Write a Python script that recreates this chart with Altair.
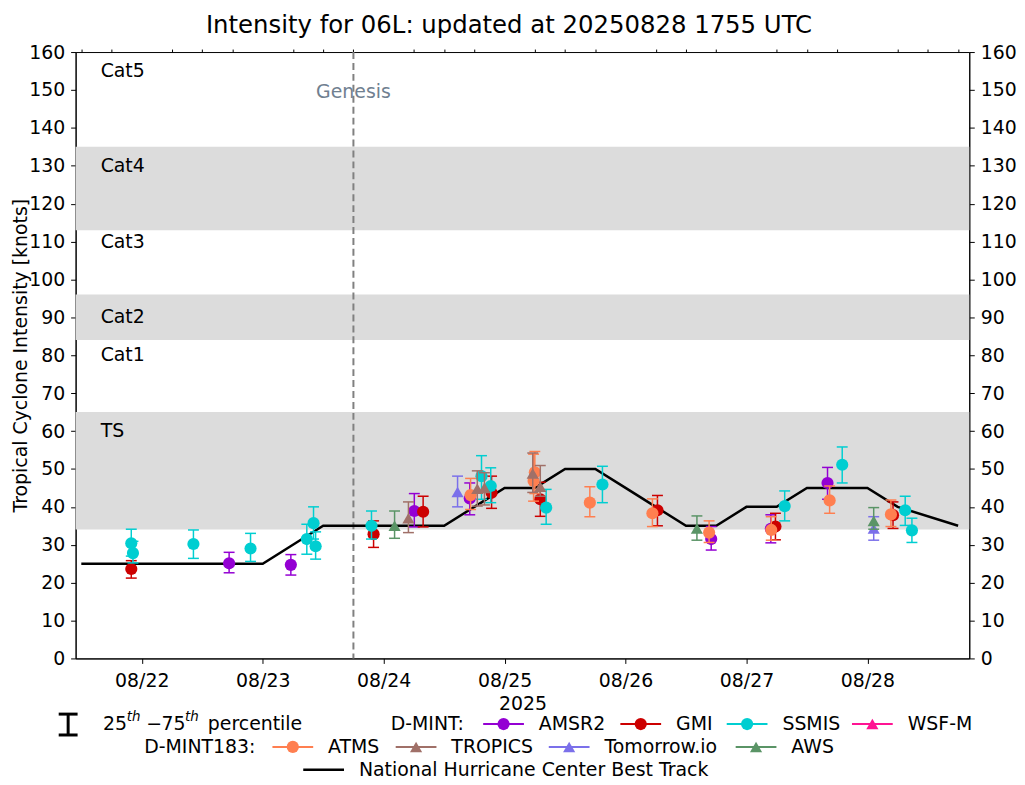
import altair as alt
import pandas as pd

FONT = "DejaVu Sans"

# ------------------------------------------------------------------ data
sensors = ["AMSR2", "GMI", "SSMIS", "WSF-M", "ATMS", "TROPICS", "Tomorrow.io", "AWS"]
sensor_colors = ["#9400d3", "#cc0000", "#00ced1", "#ff1493", "#ff7f50", "#a07068", "#7b70ea", "#5a9466"]
sensor_shapes = ["circle", "circle", "circle", "triangle-up", "circle", "triangle-up", "triangle-up", "triangle-up"]

obs_sensor = [
    "SSMIS", "SSMIS", "GMI", "SSMIS", "AMSR2", "SSMIS", "AMSR2", "SSMIS", "SSMIS", "SSMIS",
    "SSMIS", "GMI", "AWS", "TROPICS", "AMSR2", "GMI", "Tomorrow.io", "AMSR2", "ATMS", "TROPICS",
    "SSMIS", "TROPICS", "SSMIS", "GMI", "TROPICS", "ATMS", "ATMS", "TROPICS", "GMI", "SSMIS",
    "ATMS", "SSMIS", "ATMS", "GMI", "AWS", "ATMS", "AMSR2", "AMSR2", "ATMS", "GMI",
    "SSMIS", "AMSR2", "ATMS", "SSMIS", "AWS", "Tomorrow.io", "ATMS", "GMI", "SSMIS", "SSMIS",
]
obs_time = [
    "2025-08-21T21:55:00Z", "2025-08-21T22:15:00Z", "2025-08-21T21:55:00Z", "2025-08-22T10:15:00Z",
    "2025-08-22T17:20:00Z", "2025-08-22T21:35:00Z", "2025-08-23T05:35:00Z", "2025-08-23T08:45:00Z",
    "2025-08-23T10:05:00Z", "2025-08-23T10:30:00Z", "2025-08-23T21:35:00Z", "2025-08-23T22:00:00Z",
    "2025-08-24T02:10:00Z", "2025-08-24T04:55:00Z", "2025-08-24T06:05:00Z", "2025-08-24T07:50:00Z",
    "2025-08-24T14:40:00Z", "2025-08-24T17:05:00Z", "2025-08-24T17:15:00Z", "2025-08-24T18:35:00Z",
    "2025-08-24T19:25:00Z", "2025-08-24T20:00:00Z", "2025-08-24T21:15:00Z", "2025-08-24T21:25:00Z",
    "2025-08-25T05:35:00Z", "2025-08-25T05:45:00Z", "2025-08-25T06:00:00Z", "2025-08-25T07:05:00Z",
    "2025-08-25T07:05:00Z", "2025-08-25T08:15:00Z", "2025-08-25T16:55:00Z", "2025-08-25T19:25:00Z",
    "2025-08-26T05:20:00Z", "2025-08-26T06:20:00Z", "2025-08-26T14:10:00Z", "2025-08-26T16:35:00Z",
    "2025-08-26T17:00:00Z", "2025-08-27T04:50:00Z", "2025-08-27T04:55:00Z", "2025-08-27T05:45:00Z",
    "2025-08-27T07:35:00Z", "2025-08-27T16:05:00Z", "2025-08-27T16:30:00Z", "2025-08-27T19:00:00Z",
    "2025-08-28T01:15:00Z", "2025-08-28T01:15:00Z", "2025-08-28T04:40:00Z", "2025-08-28T05:05:00Z",
    "2025-08-28T07:30:00Z", "2025-08-28T08:50:00Z",
]
obs_vmax = [
    30.4, 27.8, 23.6, 30.2, 25.1, 29.0, 24.7, 31.5, 35.7, 29.6,
    35.0, 32.8, 35.0, 37.0, 38.9, 38.7, 43.9, 42.2, 43.1, 44.8,
    48.1, 45.0, 45.5, 43.7, 48.8, 46.8, 49.1, 45.3, 42.0, 39.8,
    41.1, 45.9, 38.3, 39.1, 34.3, 33.2, 31.5, 34.2, 33.9, 34.8,
    40.2, 46.3, 41.7, 51.1, 36.3, 34.3, 38.0, 37.8, 39.1, 33.8,
]
obs_p25 = [
    27.0, 25.2, 21.2, 26.4, 22.6, 25.6, 22.0, 27.5, 31.5, 26.2,
    31.5, 29.3, 31.7, 33.2, 34.7, 34.7, 40.0, 37.9, 39.3, 40.2,
    42.0, 40.5, 41.1, 39.6, 43.8, 41.5, 43.5, 42.8, 37.5, 35.4,
    37.4, 41.1, 34.8, 35.0, 31.2, 30.6, 28.6, 30.5, 31.2, 31.3,
    36.3, 42.0, 38.3, 46.3, 34.1, 31.2, 34.8, 34.3, 35.1, 30.6,
]
obs_p75 = [
    34.1, 30.9, 25.8, 33.9, 28.0, 33.0, 27.4, 35.4, 40.0, 33.4,
    38.9, 36.3, 38.9, 41.3, 43.5, 42.8, 48.1, 46.3, 47.5, 49.5,
    53.5, 49.0, 50.3, 48.1, 54.2, 53.9, 54.6, 50.9, 46.5, 44.6,
    45.3, 50.7, 42.1, 43.0, 37.6, 36.3, 34.8, 37.9, 37.4, 38.3,
    44.2, 50.4, 45.5, 55.8, 39.8, 37.4, 41.8, 41.3, 42.8, 37.0,
]

bt_time = [
    "2025-08-21T12:00:00Z", "2025-08-21T18:00:00Z", "2025-08-22T00:00:00Z", "2025-08-22T06:00:00Z",
    "2025-08-22T12:00:00Z", "2025-08-22T18:00:00Z", "2025-08-23T00:00:00Z", "2025-08-23T06:00:00Z",
    "2025-08-23T12:00:00Z", "2025-08-23T18:00:00Z", "2025-08-24T00:00:00Z", "2025-08-24T06:00:00Z",
    "2025-08-24T12:00:00Z", "2025-08-24T18:00:00Z", "2025-08-25T00:00:00Z", "2025-08-25T06:00:00Z",
    "2025-08-25T12:00:00Z", "2025-08-25T18:00:00Z", "2025-08-26T00:00:00Z", "2025-08-26T06:00:00Z",
    "2025-08-26T12:00:00Z", "2025-08-26T18:00:00Z", "2025-08-27T00:00:00Z", "2025-08-27T06:00:00Z",
    "2025-08-27T12:00:00Z", "2025-08-27T18:00:00Z", "2025-08-28T00:00:00Z", "2025-08-28T06:00:00Z",
    "2025-08-28T18:00:00Z",
]
bt_vmax = [
    25, 25, 25, 25, 25, 25, 25, 30, 35, 35, 35, 35, 35, 40, 45, 45, 50, 50,
    45, 40, 35, 35, 40, 40, 45, 45, 45, 40, 35,
]

band_lo = [34, 84, 113]
band_hi = [65, 96, 135]

cat_names = ["Cat5", "Cat4", "Cat3", "Cat2", "Cat1", "TS"]
cat_label_vmax = [155, 130, 110, 90, 80, 60]
cat_label_time = "2025-08-21T15:50:00Z"

genesis_time = "2025-08-23T18:00:00Z"
genesis_label_vmax = 149.5

x_start = "2025-08-21T10:52:00Z"
x_end = "2025-08-28T20:13:00Z"
y_ticks = list(range(0, 161, 10))
major_days = ["2025-08-%02dT00:00:00Z" % d for d in range(22, 29)]
minor_times = ["2025-08-%02dT%02d:00:00Z" % (d, h) for d in range(21, 29) for h in (6, 12, 18)]

title_text = "Intensity for 06L: updated at 20250828 1755 UTC"


def ms(s):
    return int(pd.Timestamp(s).value // 10**6)


# ------------------------------------------------------------------ frames
obs = pd.DataFrame({"sensor": obs_sensor, "t": obs_time, "v": obs_vmax,
                    "p25": obs_p25, "p75": obs_p75})
bt = pd.DataFrame({"t": bt_time, "v": bt_vmax})
bands = pd.DataFrame({"lo": band_lo, "hi": band_hi})
cats = pd.DataFrame({"name": cat_names, "v": cat_label_vmax, "t": [cat_label_time] * len(cat_names)})
gen = pd.DataFrame({"t": [genesis_time], "v": [genesis_label_vmax], "label": ["Genesis"]})
one = pd.DataFrame({"k": [0]})

W, H = 899, 610
PL, PT = 68, 42          # padding (svg coords)
OX, OY = 8 + PL, 8 + PT  # page coords of plot origin
FS = 19
MSIZE = 150

xscale = alt.Scale(type="utc", domain=[ms(x_start), ms(x_end)])
yscale = alt.Scale(domain=[0, 160], nice=False, zero=False)

ax_common = dict(grid=False, domainColor="black", tickColor="black", labelColor="black",
                 titleColor="black", labelFont=FONT, titleFont=FONT, labelFontSize=FS,
                 titleFontSize=FS, titleFontWeight="normal", domainWidth=1, tickWidth=1)

x_major = alt.Axis(values=[ms(s) for s in major_days], format="%m/%d", tickSize=5,
                   labelPadding=8, title="2025", titlePadding=4, labelFlush=False,
                   labelOverlap=False, **ax_common)
x_minor = alt.Axis(values=[ms(s) for s in minor_times], labels=False, tickSize=3,
                   title=None, domain=False, grid=False, tickColor="black", tickWidth=1)
y_left = alt.Axis(values=y_ticks, tickSize=5, labelPadding=6,
                  title="Tropical Cyclone Intensity [knots]", titleX=-55, titleY=H / 2,
                  titleBaseline="middle", titleAlign="center", titleAngle=270,
                  labelFlush=False, labelOverlap=False, **ax_common)
y_right = alt.Axis(values=y_ticks, tickSize=5, labelPadding=6, orient="right",
                   title=None, labelFlush=False, labelOverlap=False, **ax_common)

layers = []

# shaded category bands (left y axis)
layers.append(alt.Chart(bands).mark_rect(color="#dcdcdc").encode(
    y=alt.Y("lo:Q", scale=yscale, axis=y_left), y2="hi:Q"))
# right y axis carrier
layers.append(alt.Chart(bands).mark_rect(opacity=0).encode(
    y=alt.Y("lo:Q", scale=yscale, axis=y_right), y2="hi:Q"))

# category labels
layers.append(alt.Chart(cats).mark_text(align="left", baseline="middle", fontSize=FS,
                                        font=FONT, color="black").encode(
    x=alt.X("t:T", scale=xscale, axis=None), y=alt.Y("v:Q", scale=yscale, axis=None),
    text="name:N"))

# genesis line and label
layers.append(alt.Chart(gen).mark_rule(color="#808080", strokeWidth=2, strokeDash=[7, 4]).encode(
    x=alt.X("t:T", scale=xscale, axis=None)))
layers.append(alt.Chart(gen).mark_text(align="center", baseline="middle", fontSize=FS,
                                       font=FONT, color="#708090").encode(
    x=alt.X("t:T", scale=xscale, axis=None), y=alt.Y("v:Q", scale=yscale, axis=None),
    text="label:N"))

# best track (major x axis)
layers.append(alt.Chart(bt).mark_line(color="black", strokeWidth=2.5).encode(
    x=alt.X("t:T", scale=xscale, axis=x_major), y=alt.Y("v:Q", scale=yscale, axis=None)))
# minor x ticks carrier
layers.append(alt.Chart(bt).mark_line(strokeOpacity=0).encode(
    x=alt.X("t:T", scale=xscale, axis=x_minor), y=alt.Y("v:Q", scale=yscale, axis=None)))

# observations, series by series
for s, c, shp in zip(sensors, sensor_colors, sensor_shapes):
    sub = obs[obs["sensor"] == s]
    if len(sub) == 0:
        continue
    base = alt.Chart(sub)
    xe = alt.X("t:T", scale=xscale, axis=None)
    layers.append(base.mark_rule(color=c, strokeWidth=1.5).encode(
        x=xe, y=alt.Y("p25:Q", scale=yscale, axis=None), y2="p75:Q"))
    layers.append(base.transform_fold(["p25", "p75"], as_=["which", "cap"]).mark_tick(
        color=c, orient="horizontal", size=11, thickness=1.5, opacity=1).encode(
        x=xe, y=alt.Y("cap:Q", scale=yscale, axis=None)))
    layers.append(base.mark_point(filled=True, size=MSIZE, opacity=1, shape=shp, color=c,
                                  strokeWidth=0).encode(
        x=xe, y=alt.Y("v:Q", scale=yscale, axis=None)))


# ------------------------------------------------------------------ legend
def txt(s, X, Y, size=FS, italic=False):
    kw = dict(text=s, align="left", baseline="middle", fontSize=size, font=FONT, color="black")
    if italic:
        kw["fontStyle"] = "italic"
    return alt.Chart(one).mark_text(**kw).encode(x=alt.value(X - OX), y=alt.value(Y - OY))


def hline(x1, x2, Y, color, width=2.0):
    return alt.Chart(one).mark_rule(color=color, strokeWidth=width).encode(
        x=alt.value(x1 - OX), x2=alt.value(x2 - OX), y=alt.value(Y - OY))


def vline(X, y1, y2, color, width=3.0):
    return alt.Chart(one).mark_rule(color=color, strokeWidth=width).encode(
        x=alt.value(X - OX), y=alt.value(y1 - OY), y2=alt.value(y2 - OY))


def marker(X, Y, color, shape):
    return alt.Chart(one).mark_point(filled=True, size=MSIZE, opacity=1, shape=shape,
                                     color=color, strokeWidth=0).encode(
        x=alt.value(X - OX), y=alt.value(Y - OY))


R1, R2, R3 = 726, 749, 772
# percentile symbol
layers += [vline(68.5, 716, 737, "black"), hline(59, 78, 716, "black", 3), hline(59, 78, 737, "black", 3)]
layers += [txt("25", 103.5, R1), txt("th", 127.5, R1 - 7, 13.5, True), txt("\u2212", 147, R1),
           txt("75", 162.5, R1), txt("th", 186, R1 - 7, 13.5, True), txt("percentile", 209, R1)]
layers.append(txt("D-MINT:", 393, R1))
layers.append(txt("D-MINT183:", 145, R2))

legend_entries = [
    ("AMSR2", R1, 486), ("GMI", R1, 624), ("SSMIS", R1, 731), ("WSF-M", R1, 857),
    ("ATMS", R2, 274), ("TROPICS", R2, 398), ("Tomorrow.io", R2, 552), ("AWS", R2, 740),
]
for name, row, x0 in legend_entries:
    i = sensors.index(name)
    layers.append(hline(x0, x0 + 41, row, sensor_colors[i]))
    layers.append(marker(x0 + 20.5, row, sensor_colors[i], sensor_shapes[i]))
    layers.append(txt(name, x0 + 56, row))

layers.append(hline(305, 346, R3, "black", 2.5))
layers.append(txt("National Hurricane Center Best Track", 361, R3))

chart = alt.layer(*layers).resolve_scale(x="shared", y="shared").resolve_axis(
    x="independent", y="independent").properties(
    width=W, height=H,
    autosize=alt.AutoSizeParams(type="none"),
    padding={"left": PL, "top": PT, "right": 48, "bottom": 124},
    title=alt.TitleParams(title_text, font=FONT, fontSize=24.5, fontWeight="normal",
                          color="black", anchor="middle", frame="group", dx=-13.5, offset=5),
).configure_view(stroke="black", strokeWidth=1)

chart.save("out.html", embed_options={"renderer": "svg", "actions": False})
